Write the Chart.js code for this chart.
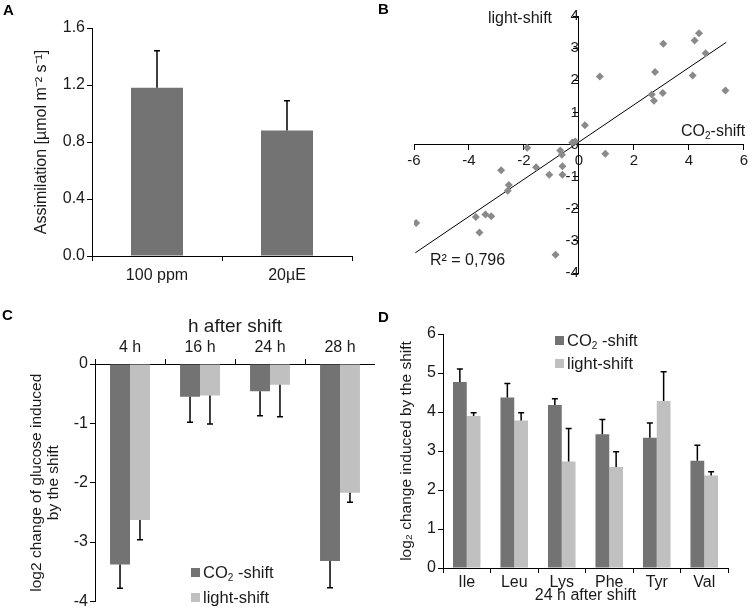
<!DOCTYPE html>
<html>
<head>
<meta charset="utf-8">
<script src="https://cdn.jsdelivr.net/npm/chart.js@4/dist/chart.umd.min.js"></script>
<style>
  body { margin: 0; background: #fff; font-family: 'Liberation Sans', Arial, sans-serif; }
  #wrap { position: relative; width: 750px; height: 613px; overflow: hidden; }
  canvas { position: absolute; }
  .t { position: absolute; color: #1a1a1a; white-space: nowrap; line-height: 1; font-size: 16px; }
  .t sub { font-size: 10px; vertical-align: -3px; line-height: 0; }
  .lbl { font-weight: bold; font-size: 15px; color: #000; }
  .key { position: absolute; font-size: 16.5px; line-height: 1; color: #1a1a1a; white-space: nowrap; }
  .key i { display: inline-block; width: 9px; height: 9px; margin-right: 3px; vertical-align: 1px; }
  .key sub { font-size: 10px; vertical-align: -3px; line-height: 0; }
</style>
</head>
<body>
<div id="wrap">
  <canvas id="ch-a" width="375" height="300" style="left:0;top:0"></canvas>
  <canvas id="ch-b" width="375" height="300" style="left:375px;top:0"></canvas>
  <canvas id="ch-c" width="375" height="313" style="left:0;top:300px"></canvas>
  <canvas id="ch-d" width="375" height="313" style="left:375px;top:300px"></canvas>

  <div class="t lbl" style="left:3px;top:2px">A</div>
  <div class="t lbl" style="left:378px;top:1px">B</div>
  <div class="t lbl" style="left:2px;top:307px">C</div>
  <div class="t lbl" style="left:378px;top:309px">D</div>

  <div class="t" style="left:488px;top:10px">light-shift</div>
  <div class="t" style="left:681px;top:123px">CO<sub>2</sub>-shift</div>
  <div class="t" style="left:430px;top:252px">R² = 0,796</div>

  <div class="key" style="left:191px;top:564px"><i style="background:#737373"></i>CO<sub>2</sub> -shift</div>
  <div class="key" style="left:191px;top:589px"><i style="background:#c0c0c0"></i>light-shift</div>
  <div class="key" style="left:555px;top:332px"><i style="background:#737373"></i>CO<sub>2</sub> -shift</div>
  <div class="key" style="left:555px;top:355px"><i style="background:#c0c0c0"></i>light-shift</div>
</div>
<script>
// ── A: assimilation ──────────────────────────────────
const aLabels = ['100 ppm', '20µE'];
const aValues = [1.18, 0.88];
const aErrors = [0.26, 0.21];

// ── B: light-shift vs CO2-shift ──────────────────────
const bCO2   = [-5.92, -3.75, -3.62, -3.40, -3.19, -2.83, -2.55, -2.59, -1.88, -1.56, -1.08, -0.68, -0.62, -0.60, -0.60, -0.85,
                -0.24, -0.13, 0.22, 0.96, 0.76, 2.65, 2.73, 2.77, 3.05, 3.07, 4.14, 4.21, 4.37, 4.61, 5.33];
const bLight = [-2.44, -2.26, -2.74, -2.18, -2.23, -0.80, -1.26, -1.44, -0.10, -0.71, -0.94, -0.19, -0.32, -0.68, -0.94, -3.43,
                0.06, 0.09, 0.60, -0.29, 2.12, 1.56, 1.36, 2.26, 1.60, 3.14, 2.15, 3.24, 3.46, 2.84, 1.68];
const bTrendX = [-5.95, 5.36];
const bTrendY = [-3.37, 3.18];

// ── C: glucose ───────────────────────────────────────
const cLabels = ['4 h', '16 h', '24 h', '28 h'];
const cCO2      = [-3.38, -0.55, -0.46, -3.32];
const cCO2Err   = [0.40, 0.43, 0.41, 0.45];
const cLight    = [-2.63, -0.53, -0.35, -2.17];
const cLightErr = [0.33, 0.48, 0.54, 0.16];

// ── D: amino acids ───────────────────────────────────
const dLabels = ['Ile', 'Leu', 'Lys', 'Phe', 'Tyr', 'Val'];
const dCO2      = [4.77, 4.37, 4.18, 3.43, 3.34, 2.75];
const dCO2Err   = [0.33, 0.36, 0.16, 0.38, 0.38, 0.40];
const dLight    = [3.90, 3.78, 2.73, 2.59, 4.28, 2.37];
const dLightErr = [0.08, 0.20, 0.85, 0.39, 0.75, 0.10];

const DARK = '#737373', LIGHT = '#c0c0c0', TXT = '#1a1a1a';
Chart.defaults.font.family = "'Liberation Sans', Arial, sans-serif";
Chart.defaults.color = TXT;
Chart.defaults.animation = false;

// error bars away from zero, drawn through the y scale
const errorBars = {
  id: 'errorBars',
  afterDatasetsDraw(chart) {
    const ctx = chart.ctx, y = chart.scales.y;
    chart.data.datasets.forEach((ds, i) => {
      if (!ds.errors) return;
      chart.getDatasetMeta(i).data.forEach((bar, j) => {
        const v = ds.data[j];
        const end = y.getPixelForValue(v + Math.sign(v) * ds.errors[j]);
        ctx.save();
        ctx.strokeStyle = '#000';
        ctx.lineWidth = 1.5;
        ctx.beginPath();
        ctx.moveTo(bar.x, bar.y); ctx.lineTo(bar.x, end);
        ctx.moveTo(bar.x - 3, end); ctx.lineTo(bar.x + 3, end);
        ctx.stroke();
        ctx.restore();
      });
    });
  }
};

const axis = (extra = {}) => ({
  border: { color: '#000', width: 1 },
  grid: { drawOnChartArea: false, color: '#000', tickLength: 5 },
  ...extra,
  ticks: { color: TXT, padding: 2, font: { size: 16 }, ...(extra.ticks || {}) }
});
const base = (padding) => ({
  responsive: false,
  layout: { padding },
  plugins: { legend: { display: false }, tooltip: { enabled: false } }
});

// A
new Chart(document.getElementById('ch-a'), {
  type: 'bar',
  data: { labels: aLabels, datasets: [{ data: aValues, errors: aErrors, backgroundColor: DARK, barPercentage: 0.4, categoryPercentage: 1 }] },
  options: {
    ...base({ left: 0, top: 28, right: 23, bottom: 0 }),
    scales: {
      x: axis({ ticks: { padding: 5 }, afterFit: s => { s.height = 44; } }),
      y: axis({
        min: 0, max: 1.6,
        ticks: { stepSize: 0.4, callback: v => v.toFixed(1) },
        title: { display: true, text: 'Assimilation [µmol m⁻² s⁻¹]', font: { size: 16 }, padding: { top: 32 } },
        afterFit: s => { s.width = 92; }
      })
    }
  },
  plugins: [errorBars]
});

// B
new Chart(document.getElementById('ch-b'), {
  type: 'scatter',
  data: {
    datasets: [
      { data: bCO2.map((x, i) => ({ x, y: bLight[i] })), pointStyle: 'rectRot', pointRadius: 4, backgroundColor: '#8a8a8a', borderWidth: 0 },
      { type: 'line', data: bTrendX.map((x, i) => ({ x, y: bTrendY[i] })), borderColor: '#000', borderWidth: 1, pointRadius: 0 }
    ]
  },
  options: {
    ...base({ left: 39, top: 16, right: 5, bottom: 27 }),
    scales: {
      x: axis({ position: { y: 0 }, min: -6, max: 6, ticks: { stepSize: 2, font: { size: 15 } } }),
      y: axis({ position: { x: 0 }, min: -4, max: 4, ticks: { stepSize: 1, font: { size: 15 } } })
    }
  }
});

// C
new Chart(document.getElementById('ch-c'), {
  type: 'bar',
  data: {
    labels: cLabels,
    datasets: [
      { data: cCO2, errors: cCO2Err, backgroundColor: DARK, barPercentage: 1, categoryPercentage: 0.57 },
      { data: cLight, errors: cLightErr, backgroundColor: LIGHT, barPercentage: 1, categoryPercentage: 0.57 }
    ]
  },
  options: {
    ...base({ left: 0, top: 0, right: 0, bottom: 7 }),
    scales: {
      x: axis({
        position: 'top',
        title: { display: true, text: 'h after shift', font: { size: 19 }, padding: { top: 15 } },
        afterFit: s => { s.height = 64; }
      }),
      y: axis({
        min: -4, max: 0,
        ticks: { stepSize: 1 },
        title: { display: true, text: ['log2 change of glucose induced', 'by the shift'], font: { size: 15.5, lineHeight: 1.1 }, padding: { top: 28 } },
        afterFit: s => { s.width = 95; }
      })
    }
  },
  plugins: [errorBars]
});

// D
new Chart(document.getElementById('ch-d'), {
  type: 'bar',
  data: {
    labels: dLabels,
    datasets: [
      { data: dCO2, errors: dCO2Err, backgroundColor: DARK, barPercentage: 1, categoryPercentage: 0.58 },
      { data: dLight, errors: dLightErr, backgroundColor: LIGHT, barPercentage: 1, categoryPercentage: 0.58 }
    ]
  },
  options: {
    ...base({ left: 0, top: 34, right: 22, bottom: 0 }),
    scales: {
      x: axis({
        ticks: { padding: 0 },
        title: { display: true, text: '24 h after shift', font: { size: 16 }, padding: { top: 0, bottom: 8 } },
        afterFit: s => { s.height = 45; }
      }),
      y: axis({
        min: 0, max: 6,
        ticks: { stepSize: 1 },
        title: { display: true, text: 'log₂ change induced by the shift', font: { size: 15.5 }, padding: { top: 22 } },
        afterFit: s => { s.width = 68; }
      })
    }
  },
  plugins: [errorBars]
});
</script>
</body>
</html>
